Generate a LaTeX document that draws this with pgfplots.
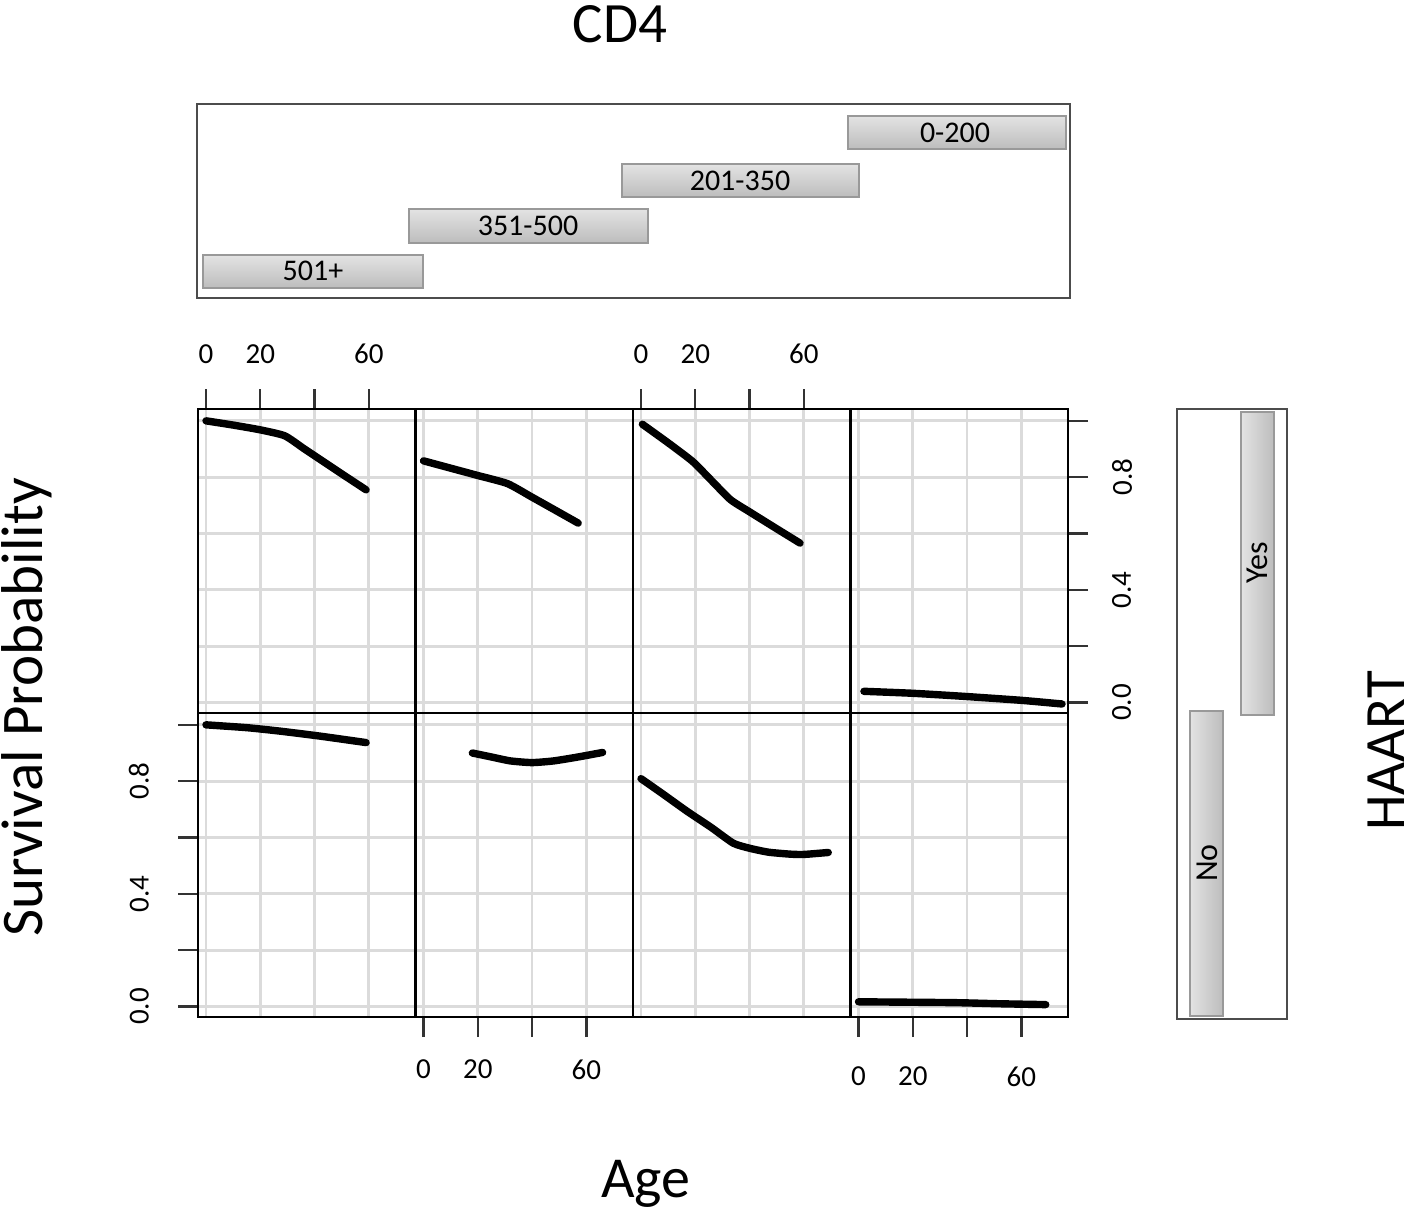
\documentclass[border=0pt]{standalone}
\usepackage{pgfplots}
\pgfplotsset{compat=1.18}
\usepackage{fontspec}
\setmainfont{Carlito}

\pgfplotsset{
 panel/.style={scale only axis, width=108.75pt, height=152pt, anchor=north west,
  xmin=-2.95, xmax=77.2, ymin=-0.037, ymax=1.042,
  xtick={0,20,40,60}, ytick={0,0.2,0.4,0.6,0.8,1},
  xticklabels={}, yticklabels={},
  grid=major, major grid style={black!14, line width=1.4pt},
  axis line style={black, line width=1.2pt},
  major tick length=0pt, tick align=outside,
  tick style={black!80, line width=1.2pt},
  tick label style={font=\fontsize{14.5}{16}\selectfont},
  /pgf/number format/assume math mode=true},
 curve/.style={black, line width=3.7pt, line cap=round, line join=round, smooth, tension=0.35, mark=none},
 strip/.style={scale only axis, anchor=north west, y dir=reverse, xtick=\empty, ytick=\empty,
  axis line style={black!70, line width=1.2pt}, clip=false},
 bar/.style={draw=black!40, line width=0.6pt, top color=black!11, bottom color=black!26},
}

\begin{document}
\begin{tikzpicture}
\useasboundingbox (0,0) rectangle (709pt,-607pt);

% ---- CD4 strip ----
\begin{axis}[strip, at={(98.5pt,-52pt)}, width=436.5pt, height=97pt,
  xmin=197, xmax=1070, ymin=104, ymax=298]
\addplot[bar] coordinates {(203,255) (423,255) (423,288) (203,288)} -- cycle;
\addplot[bar] coordinates {(409,209) (648,209) (648,243) (409,243)} -- cycle;
\addplot[bar] coordinates {(622,164) (859,164) (859,197) (622,197)} -- cycle;
\addplot[bar] coordinates {(848,116) (1066,116) (1066,149) (848,149)} -- cycle;
\node[font=\fontsize{15}{16}\selectfont] at (axis cs:313,271) {501+};
\node[font=\fontsize{15}{16}\selectfont] at (axis cs:528,226) {351-500};
\node[font=\fontsize{15}{16}\selectfont] at (axis cs:740,181) {201-350};
\node[font=\fontsize{15}{16}\selectfont] at (axis cs:955,133) {0-200};
\end{axis}

% ---- HAART strip ----
\begin{axis}[strip, at={(588.5pt,-204.5pt)}, width=55pt, height=305pt,
  xmin=1177, xmax=1287, ymin=409, ymax=1019]
\addplot[bar, left color=black!11, right color=black!26] coordinates {(1241,412) (1274,412) (1274,715) (1241,715)} -- cycle;
\addplot[bar, left color=black!11, right color=black!26] coordinates {(1190,711) (1223,711) (1223,1016) (1190,1016)} -- cycle;
\node[rotate=90, font=\fontsize{16}{18}\selectfont] at (axis cs:1257,563) {Yes};
\node[rotate=90, font=\fontsize{16}{18}\selectfont] at (axis cs:1207,863) {No};
\end{axis}

% ---- Top row: HAART = Yes ----
\begin{axis}[panel, at={(99pt,-204.5pt)}, xtick pos=right, xticklabel pos=right,
  xticklabels={0,20,,60}, major tick length=10pt, ytick style={draw=none}, xticklabel shift=9pt]
\addplot[curve] coordinates {(0,1.0) (10,0.985) (20,0.968) (29,0.947) (36,0.902) (43,0.857) (50,0.812) (59,0.755)};
\end{axis}
\begin{axis}[panel, at={(207.75pt,-204.5pt)}]
\addplot[curve] coordinates {(0,0.858) (10,0.832) (20,0.806) (31,0.777) (40,0.729) (50,0.675) (57,0.637)};
\end{axis}
\begin{axis}[panel, at={(316.5pt,-204.5pt)}, xtick pos=right, xticklabel pos=right,
  xticklabels={0,20,,60}, major tick length=10pt, ytick style={draw=none}, xticklabel shift=9pt]
\addplot[curve] coordinates {(0.5,0.988) (10,0.922) (19,0.856) (26,0.788) (33,0.72) (40,0.677) (50,0.617) (58.6,0.566)};
\end{axis}
\begin{axis}[panel, at={(425.25pt,-204.5pt)}, ytick pos=right, yticklabel pos=right,
  yticklabels={0.0,,0.4,,0.8,}, major tick length=10pt, xtick style={draw=none},
  yticklabel style={rotate=90, anchor=north}, yticklabel shift=8.5pt]
\addplot[curve] coordinates {(2,0.04) (20,0.033) (39,0.022) (60,0.008) (75,-0.005)};
\end{axis}

% ---- Bottom row: HAART = No ----
\begin{axis}[panel, at={(99pt,-356.5pt)}, ytick pos=left, yticklabel pos=left,
  yticklabels={0.0,,0.4,,0.8,}, major tick length=10pt, xtick style={draw=none},
  yticklabel style={rotate=90, anchor=south}, yticklabel shift=11pt]
\addplot[curve] coordinates {(0,1.0) (15,0.99) (27,0.978) (42,0.96) (59,0.937)};
\end{axis}
\begin{axis}[panel, at={(207.75pt,-356.5pt)}, xtick pos=left, xticklabel pos=left,
  xticklabels={0,20,,60}, major tick length=10pt, ytick style={draw=none}, xticklabel shift=8pt]
\addplot[curve] coordinates {(18,0.90) (25,0.886) (32,0.872) (40,0.866) (48,0.872) (57,0.886) (66,0.902)};
\end{axis}
\begin{axis}[panel, at={(316.5pt,-356.5pt)}]
\addplot[curve] coordinates {(0,0.809) (8,0.755) (17,0.693) (26,0.635) (34,0.58) (40,0.562) (47,0.548) (55,0.541) (60,0.54) (69,0.547)};
\end{axis}
\begin{axis}[panel, at={(425.25pt,-356.5pt)}, xtick pos=left, xticklabel pos=left,
  xticklabels={0,20,,60}, major tick length=10pt, ytick style={draw=none}, xticklabel shift=11.5pt]
\addplot[curve] coordinates {(0,0.017) (35,0.014) (52,0.010) (69,0.007)};
\end{axis}

% ---- Titles ----
\node[anchor=base, inner sep=0pt, font=\fontsize{28.5}{30}\selectfont] at (310pt,-21.5pt) {CD4};
\node[anchor=base, inner sep=0pt, font=\fontsize{29}{30}\selectfont] at (323pt,-598.5pt) {Age};
\node[rotate=90, inner sep=0pt, font=\fontsize{29.5}{30}\selectfont] at (13.5pt,-353.75pt) {Survival Probability};
\node[rotate=90, inner sep=0pt, font=\fontsize{28.5}{30}\selectfont] at (693pt,-375.5pt) {HAART};
\end{tikzpicture}
\end{document}
